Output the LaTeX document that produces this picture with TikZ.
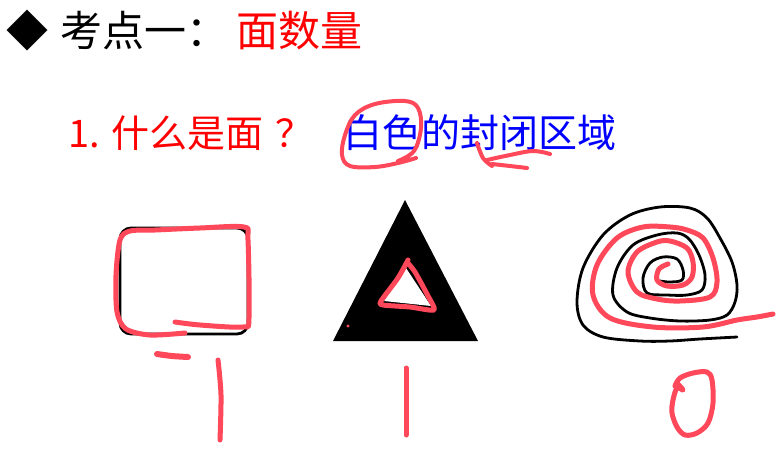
\documentclass[tikz,border=0pt]{standalone}
\usepackage{fontspec}
\newfontfamily\cjk{Noto Sans CJK SC}
\definecolor{pen}{RGB}{255,72,90}
\definecolor{txtred}{RGB}{255,0,0}
\definecolor{txtblue}{RGB}{0,0,255}
\tikzset{
  redpen/.style={draw=pen, line width=5pt, line cap=round, line join=round},
  blackline/.style={draw=black, line width=2.8pt, line cap=round, line join=round},
  title/.style={inner sep=0pt, anchor=base west, font=\cjk\fontsize{42}{50}\selectfont},
  sub/.style={inner sep=0pt, anchor=base west, font=\cjk\fontsize{38}{46}\selectfont}
}
\begin{document}
\begin{tikzpicture}[x=1pt,y=-1pt]
\useasboundingbox[fill=white] (0,0) rectangle (781,464);
% title
\node[title] (dia) at (6,46) {◆};
\node[title] (kd) at (60,46) {考点一：};
\node[title, text=txtred] (mian) at (236,46) {面数量};
% question line
\node[sub, text=txtred] (q) at (68,147) {1. 什么是面};
\node[sub, text=txtred] (qm) at (275,147) {？};
\node[sub, text=txtblue, font=\cjk\fontsize{39}{46}\selectfont] (a) at (343,147) {白色的封闭区域};
% annotations on the answer
\draw[redpen, line width=4pt] plot[smooth, tension=0.6] coordinates {(398,161) (414,151) (421,128) (418,108) (405,101) (375,104) (355,115) (345,135) (342,155) (350,166) (375,167) (398,163) (416,158)};
\draw[redpen, line width=4pt] plot[smooth, tension=0.6] coordinates {(477,143) (483,158) (492,166)};
\draw[redpen, line width=4pt] plot[smooth, tension=0.6] coordinates {(487,160) (510,155) (533,151) (550,154)};
\draw[redpen, line width=4pt] plot[smooth, tension=0.6] coordinates {(492,164) (510,166) (527,168)};
% rounded rectangle
\draw[blackline, rounded corners=11pt] (120,228) rectangle (248,334);
\draw[redpen] plot[smooth, tension=0.5] coordinates {(175,322) (200,325) (243,327) (249,318) (248,240) (244,227) (200,228) (155,230) (130,231) (120,240) (116,275) (117,312) (126,329) (150,335) (185,333)};
\draw[redpen, line width=6pt] plot[smooth] coordinates {(157,354) (172,356) (188,357)};
\draw[redpen] plot[smooth] coordinates {(218,360) (221,395) (220,440)};
% triangle
\fill[black] (405,200) -- (478,341) -- (333,341) -- cycle;
\fill[white] (406,268) -- (431,306) -- (384,301) -- cycle;
\draw[redpen] plot[smooth, tension=0.4] coordinates {(408,260) (398,278) (381,301) (383,305) (410,307) (434,310) (428,296) (415,272) (407,262)};
\fill[pen] (348,326) circle (1.6pt);
\draw[redpen] (406,368) -- (406,435);
% spiral
\draw[blackline] plot[smooth, tension=0.55] coordinates {(737,337) (700,339) (670,341) (640,341) (603,337) (583,325) (577,302) (583,268) (603,235) (630,215) (660,207) (690,208) (707,218) (720,238) (732,262) (737,285) (735,302) (727,315) (710,320) (680,321) (650,318) (627,312) (613,295) (617,268) (633,245) (657,235) (677,233) (689,239) (699,255) (705,275) (702,290) (687,295) (667,295) (647,293) (643,278) (650,263) (663,257) (677,259) (683,270) (682,280) (670,282) (660,281)};
\draw[redpen] plot[smooth, tension=0.55] coordinates {(668,264) (659,269) (657,280) (667,286) (683,285) (692,277) (693,262) (687,248) (670,241) (657,242) (637,252) (628,272) (637,292) (657,299) (680,301) (710,297) (717,282) (713,258) (703,238) (687,230) (670,227) (643,227) (617,238) (597,265) (593,295) (610,318) (653,327) (703,327) (737,320) (757,317) (773,314)};
% zero
\draw[redpen] plot[smooth, tension=0.55] coordinates {(677,383) (683,390) (677,388) (673,400) (672,413) (677,427) (685,435) (697,433) (708,423) (713,403) (712,380) (707,372) (693,373) (680,378) (675,386)};
\end{tikzpicture}
\end{document}
